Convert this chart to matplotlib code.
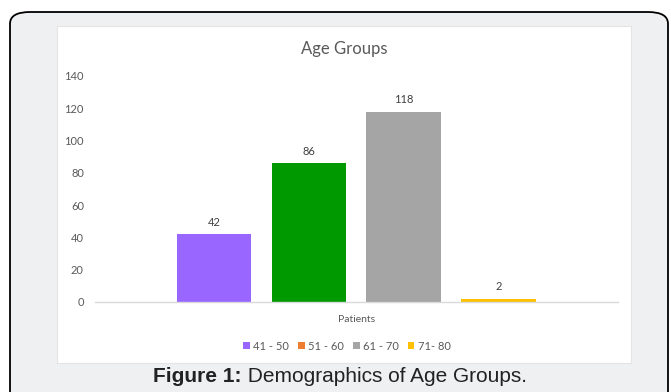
import numpy as np
import matplotlib.pyplot as plt
from matplotlib.patches import FancyBboxPatch, Rectangle, Patch

groups = ['41 - 50', '51 - 60', '61 - 70', '71- 80']
patients = [42, 86, 118, 2]
bar_colors = ['#9966ff', '#009900', '#a5a5a5', '#ffc000']
legend_colors = ['#9966ff', '#ed7d31', '#a5a5a5', '#ffc000']
yticks = [0, 20, 40, 60, 80, 100, 120, 140]

W, H = 671, 392
fig = plt.figure(figsize=(W / 100, H / 100), dpi=100)
fig.patch.set_facecolor('white')

# outer rounded frame and the white chart panel, kept behind the axes
frame = FancyBboxPatch((10 / W, -0.2), 658 / W, 1.2 - 12 / H,
                       boxstyle='round,pad=0,rounding_size=0.03',
                       transform=fig.transFigure, facecolor='#eff0f2',
                       edgecolor='black', linewidth=1.3, zorder=-3)
fig.patches.append(frame)
panel = Rectangle((57 / W, 1 - 363 / H), 574 / W, 337 / H,
                  transform=fig.transFigure, facecolor='white',
                  edgecolor='#e4e4e4', linewidth=0.8, zorder=-2)
fig.patches.append(panel)

ax = fig.add_axes([95 / W, 1 - 302 / H, 523 / W, 226 / H])
ax.set_facecolor('none')
x = np.arange(len(groups))
ax.bar(x, patients, width=0.786, color=bar_colors, zorder=2)
for xi, v in zip(x, patients):
    ax.text(xi, v + 4, str(v), ha='center', va='bottom', fontsize=8,
            color='#404040', family='Lato')

ax.set_xlim(-1.255, 4.262)
ax.set_ylim(0, 140)
ax.set_yticks(yticks)
ax.set_yticklabels([str(t) for t in yticks], fontsize=8, color='#595959', family='Lato')
ax.tick_params(axis='y', length=0, pad=8)
ax.set_xticks([])
for s in ['top', 'right', 'left']:
    ax.spines[s].set_visible(False)
ax.spines['bottom'].set_color('#d9d9d9')
ax.spines['bottom'].set_linewidth(1.0)

fig.text(344 / W, 1 - 49 / H, 'Age Groups', ha='center', va='center',
         fontsize=12, color='#595959', family='Lato')
fig.text(357 / W, 1 - 319 / H, 'Patients', ha='center', va='center',
         fontsize=7.5, color='#595959', family='Lato')

handles = [Patch(facecolor=c, edgecolor='none') for c in legend_colors]
fig.legend(handles, groups, loc='center', bbox_to_anchor=(347 / W, 1 - 346 / H),
           ncol=4, frameon=False, handlelength=0.6, handleheight=0.6,
           handletextpad=0.3, columnspacing=0.8, labelcolor='#595959',
           prop={'family': 'Lato', 'size': 8})

# caption: bold label followed by normal text, centred as one line
renderer = fig.canvas.get_renderer()
cap_y = 1 - 377 / H
t1 = fig.text(0, cap_y, 'Figure 1:', ha='left', va='center', fontsize=15,
              fontweight='bold', color='#222222', family='Liberation Sans')
t2 = fig.text(0, cap_y, ' Demographics of Age Groups.', ha='left', va='center',
              fontsize=15, color='#222222', family='Liberation Sans')
w1 = t1.get_window_extent(renderer).width
w2 = t2.get_window_extent(renderer).width
x0 = 340 - (w1 + w2) / 2
t1.set_x(x0 / W)
t2.set_x((x0 + w1) / W)

fig.savefig('out.png', dpi=100)
